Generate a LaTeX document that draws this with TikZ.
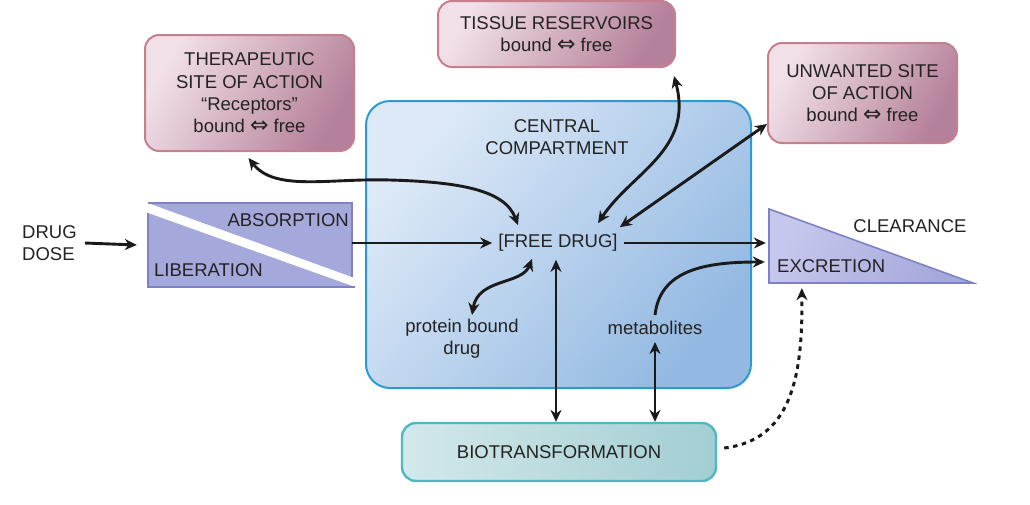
\documentclass[tikz,border=0pt]{standalone}
\usepackage{fontspec}
\setmainfont{Liberation Sans}
\newfontfamily\djv{DejaVu Sans}
\usetikzlibrary{arrows.meta,calc}
\definecolor{txt}{HTML}{232323}
\definecolor{arrc}{HTML}{1A1A1A}
\definecolor{pinkL}{HTML}{F1E0E8}
\definecolor{pinkD}{HTML}{B5809A}
\definecolor{pinkB}{HTML}{C67F8F}
\definecolor{blueL}{HTML}{DDE9F7}
\definecolor{blueD}{HTML}{93B9E2}
\definecolor{blueB}{HTML}{2B9AD4}
\definecolor{tealL}{HTML}{D3E8EA}
\definecolor{tealD}{HTML}{A2CED2}
\definecolor{tealB}{HTML}{52B7BF}
\definecolor{lavL}{HTML}{C6C7EC}
\definecolor{lavD}{HTML}{A5A8DB}
\definecolor{lavB}{HTML}{7E82C4}
\newcommand\bifree{{\djv\fontsize{22}{20}\selectfont ⇔}}
\begin{document}
\begin{tikzpicture}[x=1pt,y=-1pt,
  every node/.style={text=txt, font=\fontsize{18.5}{22.3}\selectfont},
  pinkbox/.style={draw=pinkB, line width=2pt, rounded corners=14pt, left color=pinkL, right color=pinkD, shading angle=60, align=center, inner sep=0pt},
  bluebox/.style={draw=blueB, line width=2pt, rounded corners=24pt, left color=blueL, right color=blueD, shading angle=50, inner sep=0pt},
  tealbox/.style={draw=tealB, line width=2.4pt, rounded corners=14pt, left color=tealL, right color=tealD, inner sep=0pt},
  lavshape/.style={fill=lavD},
  lbl/.style={align=center, inner sep=3pt},
  arr/.style={draw=arrc, line width=2.9pt, -{Stealth[length=12pt,width=11pt]}},
  dbl/.style={draw=arrc, line width=2.9pt, {Stealth[length=12pt,width=11pt]}-{Stealth[length=12pt,width=11pt]}},
  dotarr/.style={draw=arrc, line width=3pt, dash pattern=on 4.5pt off 4.5pt, -{Stealth[length=12pt,width=11pt]}}
]
\useasboundingbox (0,0) rectangle (1030,504);

% central compartment
\node[bluebox, minimum width=385pt, minimum height=287pt] (cc) at (558.5,244.5) {};
\node[lbl] (cctxt) at (557,137) {CENTRAL\\COMPARTMENT};

% pink boxes
\node[pinkbox, minimum width=209pt, minimum height=116pt] (ther) at (249.5,93) {THERAPEUTIC\\SITE OF ACTION\\“Receptors”\\bound \bifree{} free};
\node[pinkbox, minimum width=237pt, minimum height=66pt] (tis) at (556.5,34) {TISSUE RESERVOIRS\\bound \bifree{} free};
\node[pinkbox, minimum width=189pt, minimum height=100pt] (unw) at (862.5,93) {UNWANTED SITE\\OF ACTION\\bound \bifree{} free};

% biotransformation
\node[tealbox, minimum width=314pt, minimum height=58pt] (bio) at (559,452) {BIOTRANSFORMATION};

% absorption / liberation
\node[inner sep=0pt, minimum width=204pt, minimum height=84pt] (abs) at (250,245) {};
\fill[lavshape] (148,203) -- (352,203) -- (352,277) -- cycle;
\fill[lavshape] (148,213) -- (148,287) -- (355,287) -- cycle;
\draw[lavB, line width=1.6pt] (148,203) -- (352,203) -- (352,277);
\draw[lavB, line width=1.6pt] (148,213) -- (148,287) -- (355,287);
\node[inner sep=0pt, anchor=east] (abstxt) at (349,220) {ABSORPTION};
\node[inner sep=0pt, anchor=west] (libtxt) at (154,270) {LIBERATION};

% clearance triangle
\node[inner sep=0pt, minimum width=204pt, minimum height=74pt] (clr) at (871,246) {};
\shade[left color=lavL, right color=lavD, shading angle=60] (769,209) -- (769,283) -- (973,283) -- cycle;
\draw[lavB, line width=1.6pt] (769,209) -- (769,283) -- (973,283) -- cycle;
\node[inner sep=0pt] (clrtxt) at (910,226) {CLEARANCE};
\node[inner sep=0pt, anchor=west] (exctxt) at (777,266) {EXCRETION};

% texts
\node[inner sep=0pt, anchor=west, align=left] (dose) at (22,243) {DRUG\\DOSE};
\node[inner sep=6pt] (free) at (558,243) {[FREE DRUG]};
\node[lbl] (prot) at (462,339) {protein bound\\drug};
\node[lbl] (metab) at (655,328) {metabolites};

% connectors
\draw[arr] ($(dose.east)+(8,0)$) -- ($(abs.west)+(-11,0)$);
\draw[arr] (abs.east |- free.west) -- (free.west);
\draw[arr] (free.east) -- ($(clr.west)+(-3,-3)$);
\draw[arr] ($(metab.north)+(0,-3)$) .. controls (660,270) and (705,262) .. ($(clr.west)+(-4,16)$);
\draw[dbl] ($(metab.south)+(0,4)$) -- (metab.south |- bio.north);
\draw[dbl] ($(free.south)+(-2,2)$) -- ($(free.south |- bio.north)+(-2,0)$);
\draw[dbl] ($(free.south)+(-26,1)$) .. controls (522,285) and (478,278) .. ($(prot.north)+(10,-1)$);
\draw[dbl] ($(ther.south)+(-1,6)$) .. controls (275,192) and (330,178) .. (390,180) .. controls (460,182) and (505,190) .. ($(free.north)+(-40,-3)$);
\draw[dbl] ($(tis.south east)+(-2,8)$) .. controls (694,150) and (632,172) .. ($(free.north)+(40,-5)$);
\draw[dbl] ($(free.north east)+(-4,-1)$) -- ($(unw.south west)+(0,-20)$);
\draw[dotarr] ($(bio.east)+(7,-4)$) .. controls (790,440) and (803,380) .. ($(clr.south west)+(33,5)$);
\end{tikzpicture}
\end{document}
